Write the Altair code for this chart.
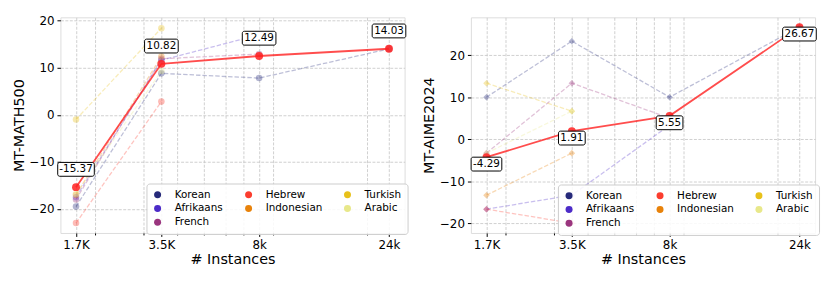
import altair as alt
import pandas as pd

# ---------------- data ----------------
sizes = [1700, 3500, 8000, 24000]
size_labels = ["1.7K", "3.5K", "8k", "24k"]
minor_ticks = [2000, 3000, 4000, 5000, 6000, 7000, 9000, 20000]

languages = ["Korean", "Afrikaans", "French", "Hebrew", "Indonesian", "Turkish", "Arabic"]
lang_colors = ["#262a7a", "#4c2bc8", "#9a357e", "#fb3d2e", "#e8820a", "#e8c11a", "#e8e88a"]
# order fed to the legend so that its 3-column grid reads like the reference
legend_order = ["Korean", "Afrikaans", "Arabic", "Hebrew", "Indonesian", "French", "Turkish"]

math_highlight = [-15.37, 10.82, 12.49, 14.03]
math_korean = [-19.5, 8.8, 7.8, 14.0]
math_afrikaans = [-17.5, 11.6, 17.0, None]
math_french = [-18.0, 11.9, 12.9, None]
math_hebrew = [-23.0, 2.8, None, None]
math_indonesian = [-17.0, 12.4, None, None]
math_turkish = [-1.0, 18.4, None, None]
math_arabic = [-16.8, 9.3, None, None]

aime_highlight = [-4.29, 1.91, 5.55, 26.67]
aime_korean = [10.0, 23.33, 10.0, 26.67]
aime_afrikaans = [-16.67, -13.33, 3.33, None]
aime_french = [-3.33, 13.33, 5.0, None]
aime_hebrew = [-16.67, -20.0, None, None]
aime_indonesian = [-13.33, -3.33, None, None]
aime_turkish = [13.33, 6.67, None, None]
aime_arabic = [-3.33, 6.67, None, None]

FONT = "DejaVu Sans"
HL = "#ff2020"

color_scale = alt.Scale(
    domain=legend_order,
    range=[lang_colors[languages.index(l)] for l in legend_order],
)

major_test = "indexof([" + ",".join(str(s) for s in sizes) + "], datum.value) >= 0"
label_expr = (
    "indexof([" + ",".join(str(s) for s in sizes) + "], datum.value) >= 0 ? ["
    + ",".join("'" + s + "'" for s in size_labels)
    + "][indexof([" + ",".join(str(s) for s in sizes) + "], datum.value)] : ''"
)

char_w = {"-": 3.61, ".": 3.18}


def text_width(s):
    return sum(char_w.get(c, 6.36) for c in s)


def panel(series, highlight, ytitle, ydomain, shape, label_dy, legend_x, legend_y):
    rows = []
    for lang, vals in zip(languages, series):
        for s, v in zip(sizes, vals):
            if v is not None:
                rows.append({"lang": lang, "x": s, "y": v})
    df = pd.DataFrame(rows)
    hl = pd.DataFrame({"x": sizes, "y": highlight,
                       "label": [f"{v:.2f}" for v in highlight]})
    hl["bw"] = [round(text_width(t) + 5) for t in hl["label"]]

    xenc = alt.X(
        "x:Q",
        scale=alt.Scale(type="log", domain=[1490, 27390], nice=False),
        axis=alt.Axis(
            values=sizes + minor_ticks,
            labelExpr=label_expr,
            tickSize={"condition": {"test": major_test, "value": 3.5}, "value": 2},
            tickColor="black",
            grid=True,
            gridColor="#c4c4c4",
            gridDash=[3, 1.5],
            gridWidth=0.8,
            domain=False,
            labelFont=FONT, labelFontSize=12, labelColor="black",
            labelOverlap=False, labelFlush=False, labelPadding=3,
            titleFont=FONT, titleFontSize=14.5, titleFontWeight="normal",
            titleColor="black", titlePadding=2,
        ),
        title="# Instances",
    )
    yenc = alt.Y(
        "y:Q",
        scale=alt.Scale(domain=ydomain, nice=False, zero=False),
        axis=alt.Axis(
            values=[-20, -10, 0, 10, 20],
            tickSize=3.5, tickColor="black",
            grid=True, gridColor="#c4c4c4", gridDash=[3, 1.5], gridWidth=0.8,
            domain=False,
            labelFont=FONT, labelFontSize=12, labelColor="black", labelPadding=3,
            titleFont=FONT, titleFontSize=14.5, titleFontWeight="normal",
            titleColor="black", titlePadding=3,
        ),
        title=ytitle,
    )

    legend = alt.Legend(
        title=None, orient="none", legendX=legend_x, legendY=legend_y,
        columns=3, symbolType="circle", symbolSize=50,
        symbolOpacity=1, labelFont=FONT, labelFontSize=10.5, labelColor="black",
        labelOffset=12, columnPadding=20, rowPadding=3, padding=6,
        fillColor="rgba(255,255,255,0.85)", strokeColor="#cccccc", cornerRadius=3,
    )

    layers = []
    for lang, col in zip(languages, lang_colors):
        layers.append(
            alt.Chart(df).transform_filter(alt.datum.lang == lang).mark_line(
                color=col, strokeDash=[4.5, 2], strokeWidth=1.3, opacity=0.3
            ).encode(x=xenc, y=yenc, order="x:Q")
        )
    pts = alt.Chart(df).mark_point(filled=True, shape=shape, size=44, opacity=0.35).encode(
        x=xenc, y=yenc,
        fill=alt.Fill("lang:N", scale=color_scale, legend=legend),
    )
    hline = alt.Chart(hl).mark_line(color=HL, strokeWidth=1.8, opacity=0.8).encode(x=xenc, y=yenc)
    hpts = alt.Chart(hl).mark_circle(color=HL, size=64, opacity=0.85).encode(x=xenc, y=yenc)
    layers += [pts, hline, hpts]

    for w in sorted(set(hl["bw"])):
        box = alt.Chart(hl).transform_filter(f"datum.bw == {w}").mark_rect(
            fill="white", stroke="black", strokeWidth=1, cornerRadius=2,
            xOffset=-w / 2, x2Offset=w / 2,
            yOffset=label_dy - 7, y2Offset=label_dy + 7,
        ).encode(x=xenc, x2="x:Q", y=yenc, y2="y:Q")
        layers.append(box)
    txt = alt.Chart(hl).mark_text(font=FONT, fontSize=10.5, color="black",
                                  dy=label_dy, baseline="middle", align="center").encode(
        x=xenc, y=yenc, text="label:N")
    layers.append(txt)
    return alt.layer(*layers).properties(width=348, height=218)


left = panel(
    [math_korean, math_afrikaans, math_french, math_hebrew, math_indonesian,
     math_turkish, math_arabic],
    math_highlight, "MT-MATH500", [-25.1, 20.7], "circle", -18, 87, 168,
)
right = panel(
    [aime_korean, aime_afrikaans, aime_french, aime_hebrew, aime_indonesian,
     aime_turkish, aime_arabic],
    aime_highlight, "MT-AIME2024", [-22.33, 29.0], "diamond", 7, 88, 169,
)

chart = alt.hconcat(left, right, spacing=12).resolve_scale(
    fill="independent"
).resolve_legend(fill="independent").properties(
    padding={"left": 2, "top": 4, "right": 2, "bottom": 2}
).configure_view(stroke="black", strokeWidth=1).configure(background="white")

chart.save("out.html", embed_options={"renderer": "svg", "actions": False})
